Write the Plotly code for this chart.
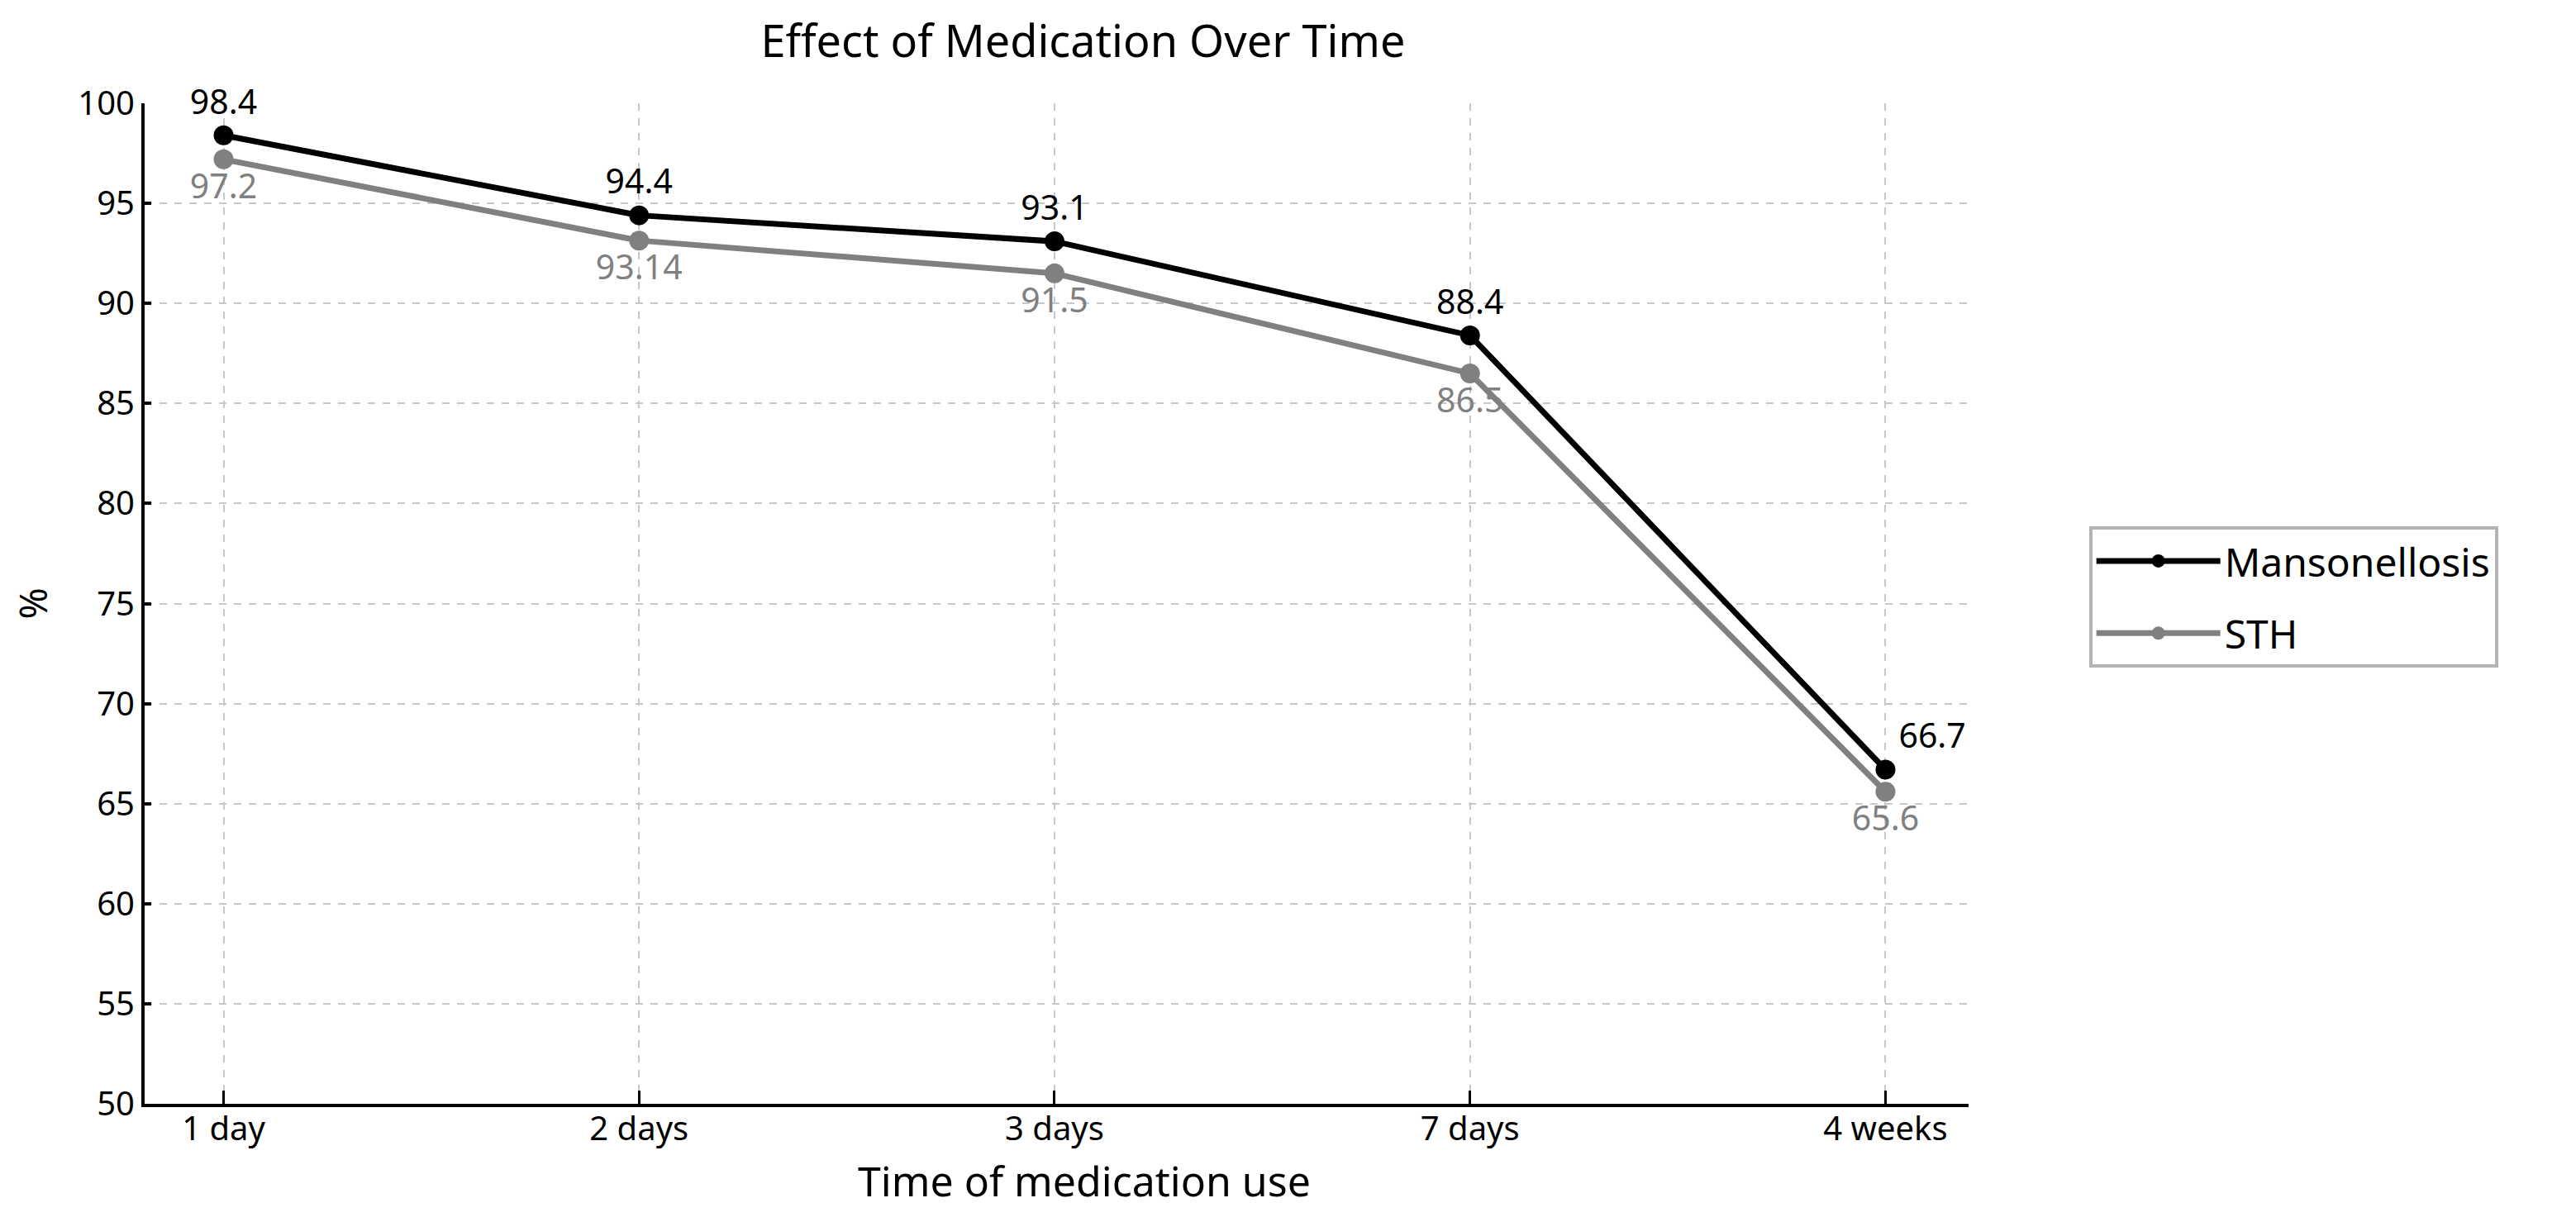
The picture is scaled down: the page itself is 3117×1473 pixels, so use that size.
import plotly.graph_objects as go

periods = ["1 day", "2 days", "3 days", "7 days", "4 weeks"]
mansonellosis = [98.4, 94.4, 93.1, 88.4, 66.7]
sth = [97.2, 93.14, 91.5, 86.5, 65.6]
mans_labels = ["98.4", "94.4", "93.1", "88.4", "66.7"]
sth_labels = ["97.2", "93.14", "91.5", "86.5", "65.6"]

FONT = "Noto Sans, sans-serif"

fig = go.Figure()
fig.add_trace(go.Scatter(
    x=periods, y=mansonellosis, name="Mansonellosis", legendgroup="m",
    mode="lines+markers+text", text=mans_labels, cliponaxis=False,
    textposition=["top center", "top center", "top center", "top center", "top right"],
    textfont=dict(color="black", size=41, family=FONT),
    line=dict(color="black", width=7),
    marker=dict(color="black", size=24),
))
fig.add_trace(go.Scatter(
    x=periods, y=sth, name="STH", legendgroup="s",
    mode="lines+markers+text", text=sth_labels, cliponaxis=False,
    textposition="bottom center",
    textfont=dict(color="#808080", size=41, family=FONT),
    line=dict(color="#808080", width=7),
    marker=dict(color="#808080", size=24),
))

# page body has an 8px margin, so the figure is a little smaller than the window
fig.update_layout(
    width=3101, height=1457,
    margin=dict(l=167, r=727, t=117, b=129),
    paper_bgcolor="white", plot_bgcolor="white",
    font=dict(family=FONT, color="black", size=40),
    title=dict(text="Effect of Medication Over Time", x=0.42, xanchor="center",
               y=0.971, yanchor="middle", font=dict(size=54)),
    legend=dict(x=1.066, y=0.577, xanchor="left", yanchor="top",
                bordercolor="#b4b4b4", borderwidth=4, font=dict(size=48),
                itemwidth=150, tracegroupgap=22),
    showlegend=True,
)
# x title sits a bit right of the plot centre, as in the source
fig.add_annotation(
    text="Time of medication use", xref="paper", yref="paper",
    x=0.515, y=-0.077, xanchor="center", yanchor="middle",
    showarrow=False, font=dict(size=50),
)
fig.update_xaxes(
    range=[-0.19, 4.2], showline=True, linecolor="black", linewidth=4,
    ticks="inside", ticklen=16, tickwidth=3, tickcolor="black",
    ticklabelstandoff=-8,
    showgrid=True, gridcolor="#c8c8c8", griddash="dash", gridwidth=2,
    zeroline=False,
)
fig.update_yaxes(
    range=[50, 100], dtick=5, showline=True, linecolor="black", linewidth=4,
    ticks="inside", ticklen=8, tickwidth=4, tickcolor="black",
    showgrid=True, gridcolor="#c8c8c8", griddash="dash", gridwidth=2,
    title=dict(text="%", font=dict(size=46), standoff=40),
    zeroline=False,
)

fig.write_html("out.html")
